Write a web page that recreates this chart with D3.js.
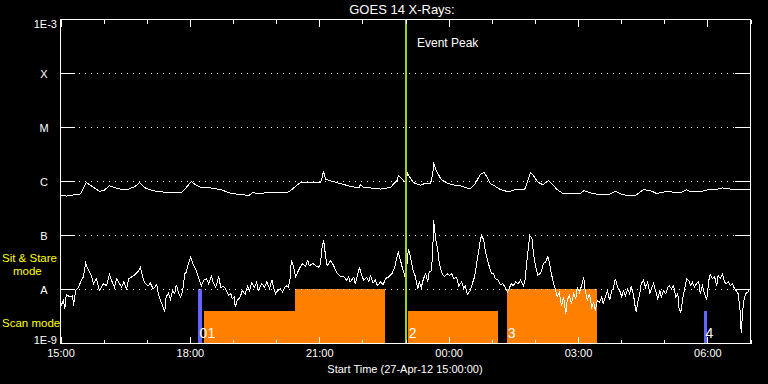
<!DOCTYPE html>
<html>
<head>
<meta charset="UTF-8">
<script src="https://d3js.org/d3.v7.min.js"></script>
<style>
  body { margin: 0; background: #000; }
  text { font-family: "Liberation Sans", Arial, sans-serif; fill: #fff; }
</style>
</head>
<body>
<svg id="chart" width="768" height="384"></svg>
<script>
// [minutes after 27-Apr-12 15:00, log10 flux W/m^2]
const longChannel = [[0,-6.25],[8,-6.27],[28,-6.23],[35,-6.04],[36,-6.02],[46,-6.11],[54,-6.18],[60,-6.17],[68,-6.08],[77,-6.12],[86,-6.15],[95,-6.14],[104,-6.09],[110,-6.02],[118,-6.12],[128,-6.17],[139,-6.19],[153,-6.21],[168,-6.21],[175,-6.11],[182,-6.00],[188,-6.06],[196,-6.12],[209,-6.12],[223,-6.15],[237,-6.22],[250,-6.24],[262,-6.26],[267,-6.21],[278,-6.22],[292,-6.20],[306,-6.20],[316,-6.20],[320,-6.17],[327,-6.09],[334,-6.02],[344,-6.01],[355,-6.01],[362,-6.02],[364,-5.92],[366,-5.81],[369,-5.96],[376,-5.99],[390,-6.04],[403,-6.09],[415,-6.12],[417,-6.06],[422,-6.11],[431,-6.12],[445,-6.14],[459,-6.11],[469,-5.97],[470,-5.89],[476,-5.97],[480,-6.01],[483,-5.85],[486,-5.92],[491,-6.02],[501,-6.07],[508,-6.03],[515,-6.03],[518,-5.86],[519,-5.65],[523,-5.80],[529,-5.95],[536,-6.02],[545,-6.06],[557,-6.08],[570,-6.14],[577,-6.04],[584,-5.87],[589,-5.83],[593,-5.91],[598,-6.04],[605,-6.09],[612,-6.15],[623,-6.19],[633,-6.15],[640,-6.15],[646,-6.14],[651,-5.95],[654,-5.84],[658,-5.89],[664,-6.01],[671,-6.06],[676,-6.01],[679,-5.98],[685,-6.06],[691,-6.15],[700,-6.23],[710,-6.23],[723,-6.23],[728,-6.17],[737,-6.21],[751,-6.25],[765,-6.23],[772,-6.18],[779,-6.23],[789,-6.26],[800,-6.26],[806,-6.20],[811,-6.15],[821,-6.17],[829,-6.22],[838,-6.20],[846,-6.18],[853,-6.20],[863,-6.21],[871,-6.15],[877,-6.19],[890,-6.19],[902,-6.15],[911,-6.15],[921,-6.12],[932,-6.14],[946,-6.14],[960,-6.15]];

const shortChannel = [[0,-8.14],[1,-8.30],[4,-8.20],[6,-8.36],[8,-8.09],[13,-8.14],[17,-8.11],[18,-8.30],[21,-8.02],[25,-7.96],[29,-7.83],[32,-7.76],[35,-7.51],[38,-7.62],[42,-7.71],[46,-7.89],[50,-7.80],[54,-8.02],[60,-7.89],[64,-7.93],[68,-7.72],[71,-7.83],[75,-7.96],[78,-7.80],[82,-7.89],[85,-7.96],[88,-7.86],[92,-7.99],[95,-7.80],[100,-7.76],[104,-7.72],[109,-7.65],[111,-7.59],[115,-7.80],[118,-7.89],[122,-7.93],[125,-7.88],[129,-7.99],[134,-7.91],[136,-8.07],[139,-8.20],[142,-8.30],[145,-8.42],[147,-8.14],[150,-8.07],[153,-8.19],[156,-8.02],[159,-8.08],[161,-7.91],[164,-8.05],[167,-8.14],[170,-8.02],[173,-7.71],[175,-7.68],[178,-7.52],[181,-7.40],[184,-7.52],[188,-7.62],[192,-7.77],[196,-7.93],[199,-7.83],[203,-7.80],[206,-7.89],[210,-7.76],[213,-7.89],[216,-7.96],[220,-7.76],[223,-7.96],[227,-7.94],[231,-8.02],[234,-8.11],[237,-8.08],[239,-8.17],[242,-8.13],[243,-8.33],[246,-8.20],[250,-8.14],[253,-8.02],[257,-8.09],[260,-7.94],[263,-8.02],[266,-7.88],[270,-7.96],[273,-7.86],[275,-8.02],[280,-7.89],[284,-7.96],[287,-7.86],[291,-7.99],[294,-7.82],[296,-7.93],[299,-8.08],[302,-8.02],[306,-7.99],[309,-8.05],[312,-7.96],[314,-7.93],[317,-7.96],[320,-7.77],[321,-7.46],[324,-7.56],[327,-7.77],[330,-7.68],[334,-7.57],[337,-7.52],[341,-7.57],[344,-7.46],[346,-7.56],[351,-7.52],[355,-7.56],[359,-7.59],[362,-7.52],[363,-7.28],[366,-7.08],[369,-7.40],[371,-7.56],[376,-7.46],[380,-7.56],[385,-7.70],[390,-7.77],[394,-7.76],[398,-7.83],[401,-7.77],[403,-7.86],[408,-7.77],[410,-7.89],[415,-7.65],[416,-7.59],[419,-7.74],[422,-7.83],[426,-7.77],[429,-7.86],[431,-7.74],[435,-7.88],[438,-7.82],[441,-7.93],[445,-7.86],[449,-7.91],[452,-7.80],[456,-7.77],[461,-7.71],[465,-7.59],[469,-7.34],[470,-7.31],[473,-7.46],[476,-7.62],[479,-7.74],[480,-7.83],[484,-7.25],[487,-7.40],[490,-7.62],[494,-7.77],[497,-7.99],[499,-7.86],[502,-7.96],[505,-7.80],[508,-7.71],[511,-7.85],[513,-7.68],[516,-7.65],[518,-7.28],[519,-6.72],[522,-7.06],[525,-7.28],[527,-7.52],[531,-7.71],[534,-7.76],[538,-7.71],[541,-7.74],[544,-7.70],[547,-7.80],[551,-7.77],[554,-7.94],[558,-7.86],[561,-7.97],[563,-7.93],[566,-8.09],[570,-8.02],[573,-7.89],[576,-7.77],[579,-7.52],[582,-7.28],[584,-7.08],[586,-7.00],[589,-7.09],[591,-7.28],[594,-7.46],[597,-7.59],[600,-7.71],[602,-7.70],[605,-7.80],[609,-7.83],[612,-7.91],[615,-7.89],[619,-7.96],[622,-8.05],[625,-7.96],[627,-7.89],[630,-7.93],[633,-7.86],[637,-7.89],[640,-7.83],[644,-7.93],[646,-7.86],[648,-7.59],[651,-7.22],[653,-7.00],[656,-7.06],[658,-7.34],[661,-7.56],[664,-7.74],[667,-7.71],[669,-7.66],[672,-7.52],[675,-7.49],[678,-7.39],[680,-7.49],[683,-7.71],[686,-7.89],[689,-8.02],[691,-8.14],[694,-8.05],[697,-8.30],[700,-8.14],[703,-8.45],[705,-8.20],[708,-8.11],[711,-8.26],[714,-8.08],[717,-8.17],[719,-7.96],[722,-8.05],[725,-7.93],[728,-7.77],[730,-8.02],[733,-8.20],[736,-8.08],[739,-8.33],[742,-8.24],[744,-8.39],[747,-8.20],[750,-8.24],[753,-8.14],[755,-8.26],[758,-8.14],[761,-8.02],[764,-8.20],[767,-8.02],[769,-7.99],[772,-7.80],[775,-7.96],[778,-8.02],[781,-8.14],[783,-8.02],[786,-8.11],[789,-7.99],[792,-8.08],[794,-7.93],[797,-8.08],[800,-8.36],[801,-8.42],[803,-8.24],[806,-8.08],[808,-7.89],[811,-7.83],[814,-7.96],[817,-7.86],[820,-8.08],[822,-7.99],[825,-7.89],[828,-8.02],[831,-8.17],[834,-8.02],[836,-8.14],[839,-8.02],[842,-8.08],[845,-7.96],[847,-7.93],[850,-7.99],[853,-7.93],[856,-8.14],[859,-8.08],[860,-8.33],[863,-8.42],[866,-8.14],[868,-8.02],[871,-7.80],[874,-7.83],[877,-7.93],[879,-7.86],[882,-7.96],[885,-7.89],[888,-7.86],[890,-8.08],[893,-7.93],[896,-8.08],[899,-8.20],[902,-7.83],[904,-7.72],[907,-7.80],[910,-7.76],[913,-7.93],[915,-7.74],[918,-7.80],[921,-7.72],[924,-7.86],[926,-7.89],[929,-7.86],[932,-7.93],[935,-7.89],[937,-7.96],[940,-8.02],[943,-8.08],[946,-8.45],[947,-8.81],[950,-8.26],[953,-8.08],[956,-8.05],[958,-8.02]];

const classLabels = ["1E-9", "A", "B", "C", "M", "X", "1E-3"];
const classFlux = [1e-9, 1e-8, 1e-7, 1e-6, 1e-5, 1e-4, 1e-3];
const tickLabels = ["15:00", "18:00", "21:00", "00:00", "03:00", "06:00"];
const eventPeakMinute = 481;
// scan mode blocks: start minute, end minute, log10 level
const scanBlocks = [[199, 326, -8.4], [326, 452, -8], [483, 608, -8.4], [621, 747, -8]];
const markerBars = [[191, 197, -8], [895, 899, -8.4]];
const eventNumbers = ["0", "1", "2", "3", "4"];
const eventNumberMinutes = [192, 199, 483, 621, 896];

const width = 768, height = 384;
const margin = { top: 19, right: 18, bottom: 41, left: 60 };
const svg = d3.select("#chart").attr("width", width).attr("height", height)
    .style("background", "#000").attr("shape-rendering", "crispEdges");

const start = new Date(2012, 3, 27, 15, 0);
const toDate = m => d3.timeMinute.offset(start, m);
const x = d3.scaleTime().domain([start, toDate(960)]).range([margin.left + 0.5, width - margin.right + 0.5]);
const y = d3.scaleLog().domain([1e-9, 1e-3]).range([height - margin.bottom + 0.5, margin.top + 0.5]);

// orange scan blocks and blue markers
const bars = (data, color) => svg.selectAll(null).data(data).enter().append("rect")
    .attr("x", d => Math.round(x(toDate(d[0]))))
    .attr("width", d => Math.round(x(toDate(d[1]))) - Math.round(x(toDate(d[0]))))
    .attr("y", d => y(10 ** d[2]) - 0.5)
    .attr("height", d => y(1e-9) - y(10 ** d[2]))
    .attr("fill", color);
bars(scanBlocks, "#ff8000");
bars(markerBars, "#6464ff");

// dotted class levels + short solid ticks on both sides
const levels = classFlux.slice(1, 6);
svg.selectAll(".grid").data(levels).enter().append("line")
    .attr("x1", margin.left + 19).attr("x2", width - margin.right - 15)
    .attr("y1", d => y(d)).attr("y2", d => y(d))
    .attr("stroke", "#fff").attr("stroke-dasharray", "1,5");
svg.selectAll(".ltick").data(levels).enter().append("line")
    .attr("x1", margin.left).attr("x2", margin.left + 15)
    .attr("y1", d => y(d)).attr("y2", d => y(d)).attr("stroke", "#fff");
svg.selectAll(".rtick").data(levels).enter().append("line")
    .attr("x1", width - margin.right - 15).attr("x2", width - margin.right)
    .attr("y1", d => y(d)).attr("y2", d => y(d)).attr("stroke", "#fff");

// curves
const line = d3.line().x(d => x(toDate(d[0]))).y(d => y(10 ** d[1]));
[longChannel, shortChannel].forEach(series => {
    svg.append("path").datum(series).attr("d", line)
        .attr("fill", "none").attr("stroke", "#fff").attr("stroke-width", 1);
});

// event peak line
const px = Math.round(x(toDate(eventPeakMinute)));
svg.append("rect")
    .attr("x", px - 1).attr("width", 2)
    .attr("y", y(1e-3)).attr("height", y(1e-9) - y(1e-3))
    .attr("fill", "#a4d400");
svg.append("text").attr("x", px + 11).attr("y", 47)
    .style("font-size", "12px").text("Event Peak");

// time axes: minor every hour, major every 3 hours
const bottomY = height - margin.bottom + 0.5;
const topY = margin.top + 0.5;
const fmt = d => tickLabels[Math.round((d - start) / 36e5 / 3)];
const minor = d3.timeHour.every(1), major = d3.timeHour.every(3);
const styleAxis = g => { g.select(".domain").remove(); g.selectAll("line").attr("stroke", "#fff"); };

svg.append("g").attr("transform", `translate(0,${bottomY})`)
    .call(d3.axisBottom(x).ticks(minor).tickSize(-4).tickFormat(""))
    .call(styleAxis);
svg.append("g").attr("transform", `translate(0,${bottomY})`)
    .call(d3.axisBottom(x).ticks(major).tickSize(-7).tickPadding(13).tickFormat(fmt))
    .call(styleAxis)
    .call(g => g.selectAll("text").attr("dy", null).attr("fill", "#fff")
        .style("font-size", "11px").style("font-family", "Liberation Sans, Arial, sans-serif"));
svg.append("g").attr("transform", `translate(0,${topY})`)
    .call(d3.axisTop(x).ticks(minor).tickSize(-4).tickFormat(""))
    .call(styleAxis);
svg.append("g").attr("transform", `translate(0,${topY})`)
    .call(d3.axisTop(x).ticks(major).tickSize(-7).tickFormat(""))
    .call(styleAxis);

// frame
svg.append("rect")
    .attr("x", margin.left + 0.5).attr("y", margin.top + 0.5)
    .attr("width", width - margin.left - margin.right).attr("height", height - margin.top - margin.bottom)
    .attr("fill", "none").attr("stroke", "#fff");

// class labels
svg.selectAll(".cls").data(classLabels).enter().append("text")
    .attr("x", (d, i) => (i === 0 || i === 6) ? 57 : 44)
    .attr("y", (d, i) => i === 0 ? y(classFlux[i]) : i === 6 ? y(classFlux[i]) + 8 : y(classFlux[i]) + 4)
    .attr("text-anchor", (d, i) => (i === 0 || i === 6) ? "end" : "middle")
    .style("font-size", "11px")
    .text(d => d);

// event numbers
svg.selectAll(".evn").data(eventNumbers).enter().append("text")
    .attr("x", (d, i) => x(toDate(eventNumberMinutes[i])) + (i === 1 ? 4 : 1))
    .attr("y", 338)
    .style("font-size", "14px")
    .text(d => d);

// titles
svg.append("text").attr("x", 402).attr("y", 14).attr("text-anchor", "middle")
    .style("font-size", "13px").text("GOES 14 X-Rays:");
svg.append("text").attr("x", 405).attr("y", 373).attr("text-anchor", "middle")
    .style("font-size", "11px").text("Start Time (27-Apr-12 15:00:00)");

// mode labels
svg.append("text").attr("x", 2).attr("y", 262).style("fill", "#ffff00").style("font-size", "11.5px").text("Sit & Stare");
svg.append("text").attr("x", 13).attr("y", 275).style("fill", "#ffff00").style("font-size", "11.5px").text("mode");
svg.append("text").attr("x", 2).attr("y", 327).style("fill", "#ffff00").style("font-size", "11.5px").text("Scan mode");
</script>
</body>
</html>
